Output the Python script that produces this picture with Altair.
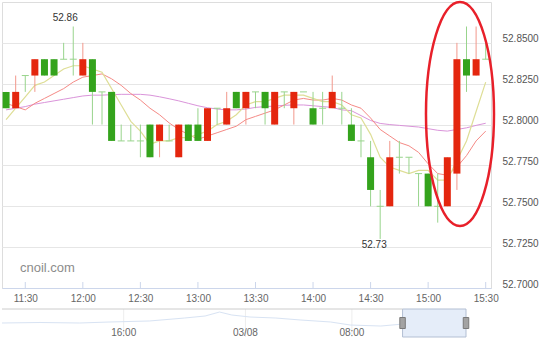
import altair as alt
import pandas as pd

DAY = "2018-03-08T"

times = ["11:20", "11:25", "11:30", "11:35", "11:40", "11:45", "11:50", "11:55",
         "12:00", "12:05", "12:10", "12:15", "12:20", "12:25", "12:30", "12:35",
         "12:40", "12:45", "12:50", "12:55", "13:00", "13:05", "13:10", "13:15",
         "13:20", "13:25", "13:30", "13:35", "13:40", "13:45", "13:50", "13:55",
         "14:00", "14:05", "14:10", "14:15", "14:20", "14:25", "14:30", "14:35",
         "14:40", "14:45", "14:50", "14:55", "15:00", "15:05", "15:10", "15:15",
         "15:20", "15:25", "15:30"]

opens = [52.82, 52.81, 52.83, 52.83, 52.84, 52.84, 52.84, 52.84, 52.83, 52.84,
         52.82, 52.82, 52.79, 52.79, 52.79, 52.80, 52.79, 52.79, 52.78, 52.80,
         52.80, 52.79, 52.81, 52.80, 52.82, 52.81, 52.82, 52.82, 52.80, 52.82,
         52.81, 52.82, 52.81, 52.81, 52.81, 52.81, 52.80, 52.79, 52.78, 52.75,
         52.75, 52.78, 52.78, 52.77, 52.77, 52.75, 52.75, 52.77, 52.84, 52.83,
         52.84]
highs = [52.82, 52.83, 52.83, 52.84, 52.84, 52.84, 52.85, 52.86, 52.85, 52.84,
         52.82, 52.82, 52.80, 52.80, 52.80, 52.80, 52.80, 52.80, 52.80, 52.80,
         52.81, 52.81, 52.81, 52.82, 52.82, 52.82, 52.82, 52.82, 52.82, 52.82,
         52.82, 52.82, 52.82, 52.82, 52.83, 52.82, 52.81, 52.80, 52.79, 52.76,
         52.79, 52.79, 52.78, 52.77, 52.77, 52.77, 52.78, 52.85, 52.86, 52.86,
         52.85]
lows = [52.81, 52.81, 52.82, 52.82, 52.83, 52.83, 52.84, 52.83, 52.83, 52.80,
        52.80, 52.79, 52.79, 52.79, 52.78, 52.78, 52.78, 52.79, 52.78, 52.79,
        52.79, 52.79, 52.80, 52.80, 52.81, 52.80, 52.81, 52.80, 52.80, 52.81,
        52.80, 52.82, 52.80, 52.80, 52.81, 52.80, 52.79, 52.78, 52.75, 52.73,
        52.75, 52.77, 52.77, 52.75, 52.75, 52.74, 52.75, 52.76, 52.82, 52.83,
        52.84]
closes = [52.81, 52.82, 52.83, 52.84, 52.83, 52.83, 52.84, 52.84, 52.84, 52.82,
          52.82, 52.79, 52.79, 52.79, 52.79, 52.78, 52.80, 52.79, 52.80, 52.79,
          52.79, 52.81, 52.81, 52.81, 52.81, 52.82, 52.82, 52.81, 52.82, 52.82,
          52.82, 52.82, 52.80, 52.81, 52.82, 52.81, 52.79, 52.79, 52.76, 52.75,
          52.78, 52.78, 52.78, 52.77, 52.75, 52.75, 52.78, 52.84, 52.83, 52.84,
          52.84]

ma5 = [52.803, 52.810, 52.817, 52.824, 52.826, 52.830, 52.834, 52.836, 52.836, 52.834,
       52.832, 52.822, 52.812, 52.802, 52.796, 52.788, 52.790, 52.790, 52.792, 52.792,
       52.794, 52.796, 52.800, 52.802, 52.806, 52.812, 52.814, 52.814, 52.816, 52.818,
       52.818, 52.818, 52.816, 52.814, 52.814, 52.812, 52.806, 52.804, 52.794, 52.780,
       52.774, 52.772, 52.770, 52.772, 52.772, 52.766, 52.766, 52.778, 52.790, 52.808,
       52.826]
ma10 = [52.813, 52.811, 52.809, 52.813, 52.816, 52.819, 52.822, 52.826, 52.829, 52.830,
        52.831, 52.828, 52.824, 52.819, 52.815, 52.810, 52.806, 52.801, 52.797, 52.794,
        52.791, 52.793, 52.795, 52.797, 52.799, 52.803, 52.805, 52.807, 52.809, 52.812,
        52.815, 52.816, 52.815, 52.815, 52.816, 52.815, 52.812, 52.810, 52.804, 52.797,
        52.793, 52.789, 52.787, 52.783, 52.776, 52.770, 52.769, 52.774, 52.781, 52.790,
        52.796]
ma30 = [52.809, 52.810, 52.811, 52.8125, 52.8135, 52.8145, 52.8155, 52.8165, 52.8175, 52.818,
        52.818, 52.8183, 52.8185, 52.8185, 52.8185, 52.818, 52.817, 52.8158, 52.8145, 52.813,
        52.8115, 52.8103, 52.8095, 52.809, 52.809, 52.8095, 52.8105, 52.811, 52.8113, 52.8118,
        52.812, 52.812, 52.8115, 52.811, 52.8105, 52.809, 52.8085, 52.8055, 52.8025, 52.8007,
        52.800, 52.7995, 52.799, 52.7985, 52.7975, 52.7965, 52.796, 52.797, 52.798, 52.7995,
        52.8008]

x_tick_labels = ["11:30", "12:00", "12:30", "13:00", "13:30", "14:00", "14:30", "15:00", "15:30"]
y_tick_values = [52.70, 52.725, 52.75, 52.775, 52.80, 52.825, 52.85]

# high / low annotations
hl_times = ["11:55", "14:35"]
hl_values = [52.86, 52.73]
hl_labels = ["52.86", "52.73"]

# red ellipse annotation centre
ellipse_time = "15:16:36"
ellipse_value = 52.8065

# navigator (trading hours since 03/07 08:00)
nav_hours = [0, 2.5, 5.1, 7.1, 9.7, 12.0, 13.35, 14.3, 15.1, 16.3, 18.0, 19.6, 21.6, 22.9,
             24.9, 26.3, 28.1, 30.5]
nav_values = [52.80, 52.809, 52.80, 52.818, 52.836, 52.889, 52.925, 52.996, 52.943, 52.907,
              52.889, 52.854, 52.818, 52.764, 52.746, 52.78, 52.79, 52.84]
nav_label_hours = [8, 16, 23]
nav_labels = ["16:00", "03/08", "08:00"]
nav_start = 0
sel_start = 26.33
sel_end = 30.5

RED = "#e4260e"
GREEN = "#34a31c"
RED_WICK = "#f2988c"
GREEN_WICK = "#98d48c"

W, H = 489, 286
NAV_TOP, NAV_BOTTOM = 307, 335

df = pd.DataFrame({
    "t": [DAY + s + ":00" for s in times],
    "open": opens, "high": highs, "low": lows, "close": closes,
    "ma5": ma5, "ma10": ma10, "ma30": ma30,
})

xscale = alt.Scale(domain=[alt.DateTime(year=2018, month=3, date=8, hours=11, minutes=17, seconds=52),
                           alt.DateTime(year=2018, month=3, date=8, hours=15, minutes=32, seconds=46)],
                   padding=0, nice=False)
xaxis = alt.Axis(
    title=None, format="%H:%M", grid=False, ticks=False, tickSize=0, domain=True,
    domainColor="#ccd6eb", labelPadding=5, labelColor="#666666", labelFontSize=10,
    labelFlush=False,
    values=[alt.DateTime(year=2018, month=3, date=8, hours=int(s[:2]), minutes=int(s[3:]))
            for s in x_tick_labels],
)
yscale = alt.Scale(domain=[52.70, 52.875], nice=False, zero=False, padding=0)
yaxis = alt.Axis(
    title=None, orient="right", values=y_tick_values, format=".4f", grid=True,
    gridColor="#e6e6e6", domain=False, ticks=False, tickSize=0, labelPadding=11,
    labelOffset=-4, labelColor="#555555", labelFontSize=10,
)


def X(field):
    return alt.X(field, type="temporal", scale=xscale, axis=xaxis)


def Y(field):
    return alt.Y(field, type="quantitative", scale=yscale, axis=yaxis)


base = alt.Chart(df)
up_test = "datum.close > datum.open"

line_purple = base.mark_line(color="#da94da", strokeWidth=1).encode(x=X("t"), y=Y("ma30"))
line_red = base.mark_line(color="#f58a86", strokeWidth=1).encode(x=X("t"), y=Y("ma10"))
line_yellow = base.mark_line(color="#dede96", strokeWidth=1.2).encode(x=X("t"), y=Y("ma5"))

wicks = base.mark_rule(strokeWidth=1).encode(
    x=X("t"), y=Y("low"), y2="high",
    color=alt.condition(up_test, alt.value(RED_WICK), alt.value(GREEN_WICK)),
)
bodies = base.transform_filter("datum.open != datum.close").mark_bar(size=7).encode(
    x=X("t"), y=Y("open"), y2="close",
    color=alt.condition(up_test, alt.value(RED), alt.value(GREEN)),
)
dojis = base.transform_filter("datum.open == datum.close").mark_tick(
    orient="horizontal", size=7, thickness=1, color=GREEN_WICK, opacity=1
).encode(x=X("t"), y=Y("open"))

hl_df = pd.DataFrame({"t": [DAY + s + ":00" for s in hl_times], "v": hl_values, "label": hl_labels})
hi_text = alt.Chart(hl_df.iloc[[0]]).mark_text(
    baseline="bottom", align="center", dx=-8, dy=-4, fontSize=10, color="#333333"
).encode(x=X("t"), y=Y("v"), text="label:N")
lo_text = alt.Chart(hl_df.iloc[[1]]).mark_text(
    baseline="top", align="center", dx=-6, dy=1, fontSize=10, color="#333333"
).encode(x=X("t"), y=Y("v"), text="label:N")

tick_df = pd.DataFrame({"t": [DAY + s + ":00" for s in x_tick_labels]})
x_ticks = alt.Chart(tick_df).mark_rule(color="#ccd6eb", strokeWidth=1).encode(
    x=X("t"), y=alt.value(H - 6), y2=alt.value(H)
)

ELLIPSE = ("M0,-1C0.1677,-1,0.3036,-0.5523,0.3036,0C0.3036,0.5523,0.1677,1,0,1"
           "C-0.1677,1,-0.3036,0.5523,-0.3036,0C-0.3036,-0.5523,-0.1677,-1,0,-1Z")
ann_df = pd.DataFrame({"t": [DAY + ellipse_time], "v": [ellipse_value]})
ellipse = alt.Chart(ann_df).mark_point(
    shape=ELLIPSE, size=50176, filled=False, color="#e8202a", strokeWidth=2.5, opacity=1
).encode(x=X("t"), y=Y("v"))

wm_df = pd.DataFrame({"txt": ["cnoil.com"]})
watermark = alt.Chart(wm_df).mark_text(
    align="left", baseline="middle", fontSize=13, color="#8c8c8c"
).encode(x=alt.value(18), y=alt.value(266), text="txt:N")

main = alt.layer(
    line_purple, line_red, line_yellow, wicks, bodies, dojis,
    hi_text, lo_text, x_ticks, ellipse, watermark
)

# ---------------- navigator (below the x axis) ----------------
nav_xscale = alt.Scale(domain=[0, 30.5], range=[0, 464], nice=False, zero=False, padding=0)


def NX(field):
    return alt.X(field, type="quantitative", scale=nav_xscale, axis=None)


nav_df = pd.DataFrame({"h": nav_hours, "v": nav_values})
nav_line = alt.Chart(nav_df).mark_line(color="#d8e3f3", strokeWidth=1).encode(
    x=NX("h"),
    y=alt.Y("v:Q", scale=alt.Scale(domain=[52.55, 53.05], range=[NAV_BOTTOM, NAV_TOP],
                                   nice=False, zero=False, padding=0), axis=None),
)
navlab_df = pd.DataFrame({"h": nav_label_hours, "label": nav_labels})
nav_grid = alt.Chart(navlab_df).mark_rule(color="#ededed", strokeWidth=1).encode(
    x=NX("h"), y=alt.value(NAV_TOP), y2=alt.value(NAV_BOTTOM)
)
nav_text = alt.Chart(navlab_df).mark_text(
    align="center", baseline="middle", fontSize=10, color="#666666"
).encode(x=NX("h"), y=alt.value(NAV_BOTTOM - 4), text="label:N")
outline_df = pd.DataFrame({"a": [nav_start], "b": [sel_start]})
nav_top = alt.Chart(outline_df).mark_rule(color="#cccccc", strokeWidth=1).encode(
    x=NX("a"), x2="b", y=alt.value(NAV_TOP)
)
sel_df = pd.DataFrame({"a": [sel_start], "b": [sel_end]})
nav_box = alt.Chart(sel_df).mark_rect(
    fill="#e5edf9", stroke="#b3bfd3", strokeWidth=1
).encode(x=NX("a"), x2="b", y=alt.value(NAV_TOP), y2=alt.value(NAV_BOTTOM))
handle_df = pd.DataFrame({"h": [sel_start, sel_end]})
nav_handles = alt.Chart(handle_df).mark_point(
    shape="M-0.5,-1H0.5V1H-0.5Z", size=121, filled=True, fill="#a3a3a3",
    stroke="#7a7a7a", strokeWidth=1, opacity=1
).encode(x=NX("h"), y=alt.value((NAV_TOP + NAV_BOTTOM) / 2))

nav = alt.layer(nav_grid, nav_line, nav_box, nav_top, nav_handles, nav_text)

chart = alt.layer(main, nav).resolve_scale(
    x="independent", y="independent"
).properties(
    width=W, height=H,
    autosize=alt.AutoSizeParams(type="none"),
    padding={"left": 2, "top": 2, "right": 59, "bottom": 52},
).configure_view(stroke="#e3e3e3").configure(font="Liberation Sans")

chart.save("out.html", embed_options={"renderer": "svg", "actions": False})
